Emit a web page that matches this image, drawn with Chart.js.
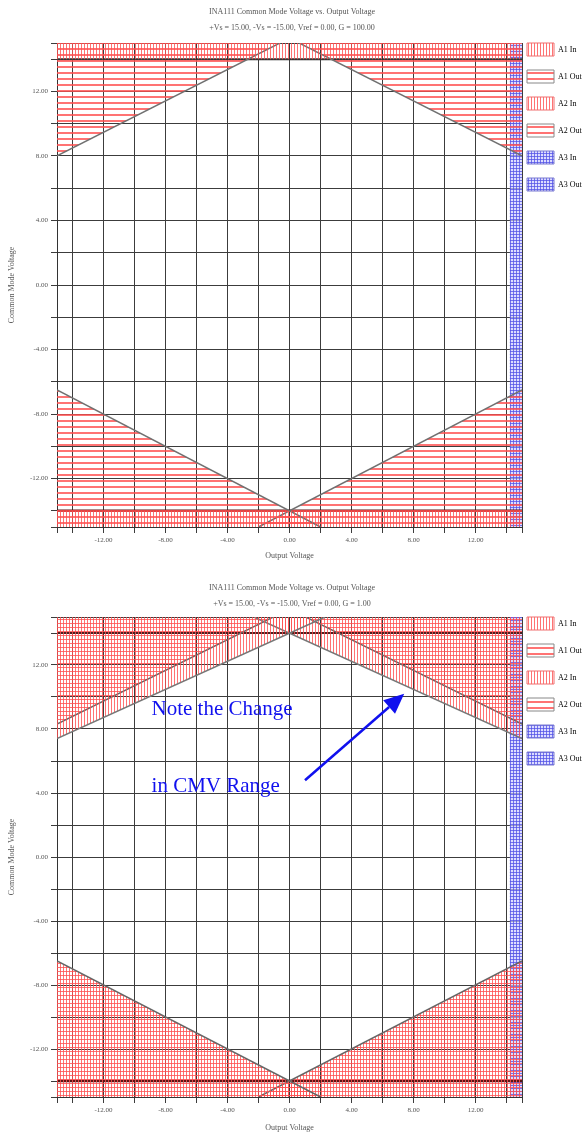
<!DOCTYPE html>
<html>
<head>
<meta charset="utf-8">
<script src="https://cdn.jsdelivr.net/npm/chart.js@4.4.1/dist/chart.umd.min.js"></script>
<style>
  body { margin: 0; background: #fff; }
  canvas { display: block; }
</style>
</head>
<body>
<canvas id="g100" width="584" height="575"></canvas>
<canvas id="g1" width="584" height="572"></canvas>
<script>
// ---- data ----
var gridValues = [-15, -14, -12, -10, -8, -6, -4, -2, 0, 2, 4, 6, 8, 10, 12, 14, 15];
var legendNames = ['A1 In', 'A1 Out', 'A2 In', 'A2 Out', 'A3 In', 'A3 Out'];
var titleG100 = ['INA111 Common Mode Voltage vs. Output Voltage', '+Vs = 15.00, -Vs = -15.00, Vref = 0.00, G = 100.00'];
var titleG1 = ['INA111 Common Mode Voltage vs. Output Voltage', '+Vs = 15.00, -Vs = -15.00, Vref = 0.00, G = 1.00'];

var inputLimitHigh = 14;
var inputLimitLow = -14;
var outputSwingX = [14.2, 15];

// G = 100
var g100TopLeftX = [-15, 0],  g100TopLeftY = [8.0, 15.3];
var g100TopRightX = [0, 15],  g100TopRightY = [15.3, 8.0];
var g100BotLeftX = [-15, 2],  g100BotLeftY = [-6.5, -15];
var g100BotRightX = [-2, 15], g100BotRightY = [-15, -6.5];

// G = 1
var g1OutTopLeftX = [-15, 0],  g1OutTopLeftY = [8.3, 15.5];
var g1OutTopRightX = [0, 15],  g1OutTopRightY = [15.5, 8.3];
var g1InTopLeftX = [-15, 2.3], g1InTopLeftY = [7.4, 15.0];
var g1InTopRightX = [-2.3, 15], g1InTopRightY = [15.0, 7.4];
var g1BotLeftX = [-15, 2],  g1BotLeftY = [-6.5, -15];
var g1BotRightX = [-2, 15], g1BotRightY = [-15, -6.5];

function pts(xs, ys) {
  return xs.map(function (x, i) { return { x: x, y: ys[i] }; });
}

// hatch patterns
function hatch(gapH, gapV, color, lw, bg) {
  var c = document.createElement('canvas');
  c.width = gapV || 4;
  c.height = gapH || 4;
  var g = c.getContext('2d');
  if (bg) { g.fillStyle = bg; g.fillRect(0, 0, c.width, c.height); }
  g.fillStyle = color;
  if (gapH) g.fillRect(0, 0, c.width, lw);
  if (gapV) g.fillRect(0, 0, lw, c.height);
  return g.createPattern(c, 'repeat');
}

var red = 'rgba(255,80,80,0.8)';
var horiz6 = hatch(6, 0, red, 2);
var horiz4 = hatch(4, 0, red, 1);
var vert3 = hatch(0, 3, red, 1);
var cross4 = hatch(4, 3, red, 1);
var blueCross = hatch(3, 3, 'rgba(80,80,230,0.75)', 1, 'rgba(205,205,255,0.7)');

var serif = 'Liberation Serif';
var txt = '#555';

function fillSet(data, pattern, fill) {
  return { data: data, backgroundColor: pattern, borderWidth: 0, fill: fill, pointRadius: 0 };
}
function lineSet(data, color, width, pattern, fill) {
  return { data: data, borderColor: color, borderWidth: width, backgroundColor: pattern || 'transparent',
           fill: fill || false, pointRadius: 0 };
}

var legendItems = [
  { fill: vert3, stroke: 'rgba(240,110,110,1)' },
  { fill: horiz6, stroke: '#888' },
  { fill: vert3, stroke: 'rgba(240,110,110,1)' },
  { fill: horiz6, stroke: '#888' },
  { fill: blueCross, stroke: '#7a7ad0' },
  { fill: blueCross, stroke: '#7a7ad0' }
];

// put the legend beside the plot top, a little in toward the frame
var legendShift = {
  id: 'legendShift',
  afterLayout: function (chart) {
    var l = chart.legend;
    l.top = chart.chartArea.top - 14;
    l.left -= 9;
  }
};

var notePlugin = {
  id: 'note',
  afterDatasetsDraw: function (chart, args, opts) {
    if (!opts.lines) return;
    var ctx = chart.ctx, x = chart.scales.x, y = chart.scales.y;
    ctx.save();
    ctx.fillStyle = opts.color;
    ctx.strokeStyle = opts.color;
    ctx.font = opts.font;
    ctx.textBaseline = 'middle';
    opts.lines.forEach(function (t, i) {
      ctx.fillText(t, x.getPixelForValue(opts.at[i][0]), y.getPixelForValue(opts.at[i][1]));
    });
    var x0 = x.getPixelForValue(opts.from[0]), y0 = y.getPixelForValue(opts.from[1]);
    var x1 = x.getPixelForValue(opts.to[0]), y1 = y.getPixelForValue(opts.to[1]);
    var a = Math.atan2(y1 - y0, x1 - x0);
    var head = 20, half = 9;
    var bx = x1 - head * Math.cos(a), by = y1 - head * Math.sin(a);
    ctx.lineWidth = 2.5;
    ctx.beginPath(); ctx.moveTo(x0, y0); ctx.lineTo(bx, by); ctx.stroke();
    ctx.beginPath();
    ctx.moveTo(x1, y1);
    ctx.lineTo(bx + half * Math.sin(a), by - half * Math.cos(a));
    ctx.lineTo(bx - half * Math.sin(a), by + half * Math.cos(a));
    ctx.closePath(); ctx.fill();
    ctx.restore();
  }
};

function makeChart(id, titles, datasets, layout, note) {
  return new Chart(document.getElementById(id), {
    type: 'line',
    data: { datasets: datasets },
    plugins: [legendShift, notePlugin],
    options: {
      responsive: false,
      animation: false,
      layout: { padding: 0 },
      plugins: {
        title: { display: true, text: titles[0], color: txt,
                 font: { family: serif, size: 8, weight: 'normal' },
                 padding: { top: layout.titleTop, bottom: 3 } },
        subtitle: { display: true, text: titles[1], color: txt,
                    font: { family: serif, size: 8, weight: 'normal' },
                    padding: { top: 3.6, bottom: layout.subBottom } },
        legend: {
          position: 'right', align: 'start', maxWidth: 62,
          labels: {
            boxWidth: 27, boxHeight: 13, padding: 14, color: txt,
            font: { family: serif, size: 8 },
            generateLabels: function () {
              return legendNames.map(function (n, i) {
                return { text: n, fillStyle: legendItems[i].fill, strokeStyle: legendItems[i].stroke,
                         lineWidth: 1, hidden: false, datasetIndex: 0 };
              });
            }
          },
          onClick: function () {}
        },
        tooltip: { enabled: false },
        note: note || {}
      },
      scales: {
        x: {
          type: 'linear', min: -15, max: 15,
          afterBuildTicks: function (s) { s.ticks = gridValues.map(function (v) { return { value: v }; }); },
          afterFit: function (s) { s.height = layout.xHeight; },
          ticks: { color: txt, font: { family: serif, size: 7 }, padding: 3, maxRotation: 0, autoSkip: false,
                   callback: function (v) { return v % 4 === 0 && Math.abs(v) < 15 ? v.toFixed(2) : ''; } },
          grid: { color: '#3c3c3c', lineWidth: 1, tickLength: 6 },
          border: { color: '#333' },
          title: { display: true, text: 'Output Voltage', color: txt,
                   font: { family: serif, size: 8 }, padding: { top: 0, bottom: 14 } }
        },
        y: {
          type: 'linear', min: -15, max: 15,
          afterBuildTicks: function (s) { s.ticks = gridValues.map(function (v) { return { value: v }; }); },
          afterFit: function (s) { s.width = 57; },
          ticks: { color: txt, font: { family: serif, size: 7 }, padding: 3, autoSkip: false,
                   callback: function (v) { return v % 4 === 0 && Math.abs(v) < 15 ? v.toFixed(2) : ''; } },
          grid: { color: '#3c3c3c', lineWidth: 1, tickLength: 6 },
          border: { color: '#333' },
          title: { display: true, text: 'Common Mode Voltage', color: txt,
                   font: { family: serif, size: 8 }, padding: { top: 7, bottom: 0 } }
        }
      }
    }
  });
}

var fullTop = pts([-15, 15], [15, 15]);
var bandLow = pts([-15, 15], [inputLimitLow, inputLimitLow]);
var swing = pts(outputSwingX, [15, 15]);

makeChart('g100', titleG100, [
  fillSet(fullTop, vert3, { value: inputLimitHigh }),
  fillSet(bandLow, vert3, 'start'),
  lineSet(pts(g100TopLeftX, g100TopLeftY), '#707070', 1.5, horiz6, 'end'),
  lineSet(pts(g100TopRightX, g100TopRightY), '#707070', 1.5, horiz6, 'end'),
  lineSet(pts(g100BotLeftX, g100BotLeftY), '#707070', 1.5, horiz6, 'start'),
  lineSet(pts(g100BotRightX, g100BotRightY), '#707070', 1.5, horiz6, 'start'),
  lineSet(pts([-15, 15], [inputLimitHigh, inputLimitHigh]), '#333', 2),
  lineSet(pts([-15, 15], [inputLimitLow, inputLimitLow]), '#5a1414', 2.5),
  fillSet(swing, blueCross, 'start')
], { titleTop: 7, subBottom: 10.2, xHeight: 48 });

makeChart('g1', titleG1, [
  lineSet(pts(g1InTopLeftX, g1InTopLeftY), '#777', 1.5, vert3, 'end'),
  lineSet(pts(g1InTopRightX, g1InTopRightY), '#777', 1.5, vert3, 'end'),
  lineSet(pts(g1OutTopLeftX, g1OutTopLeftY), '#666', 1.5, horiz4, 'end'),
  lineSet(pts(g1OutTopRightX, g1OutTopRightY), '#666', 1.5, horiz4, 'end'),
  lineSet(pts(g1BotLeftX, g1BotLeftY), '#666', 1.5, cross4, 'start'),
  lineSet(pts(g1BotRightX, g1BotRightY), '#666', 1.5, cross4, 'start'),
  lineSet(pts([-15, 15], [inputLimitHigh, inputLimitHigh]), '#4a2020', 2),
  lineSet(pts([-15, 15], [inputLimitLow, inputLimitLow]), '#5a1414', 2.5),
  fillSet(swing, blueCross, 'start')
], { titleTop: 8, subBottom: 8.2, xHeight: 50 }, {
  lines: ['Note the Change', 'in CMV Range'],
  at: [[-8.9, 9.2], [-8.9, 4.4]],
  from: [1.0, 4.8], to: [7.4, 10.2],
  color: '#1010ee', font: '21px "Liberation Serif"'
});
</script>
</body>
</html>
